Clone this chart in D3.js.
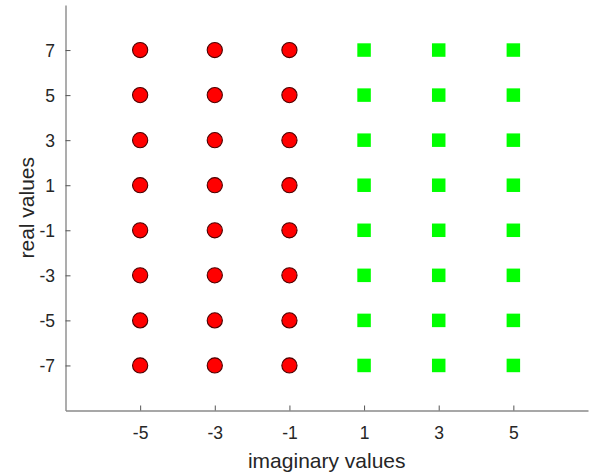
<!DOCTYPE html>
<html>
<head>
<meta charset="utf-8">
<script src="https://cdn.jsdelivr.net/npm/d3@7"></script>
<style>
  html, body { margin: 0; padding: 0; background: #fff; }
  svg { display: block; font-family: "Liberation Sans", Arial, Helvetica, sans-serif; }
</style>
</head>
<body>
<svg id="chart" width="592" height="475"></svg>
<script>
// Constellation points: real parts on the vertical axis, imaginary parts on the horizontal axis
const realValues = [7, 5, 3, 1, -1, -3, -5, -7];
const circleImag = [-5, -3, -1];   // red circles
const squareImag = [1, 3, 5];      // green squares
const xTicks = [-5, -3, -1, 1, 3, 5];
const yTicks = [-7, -5, -3, -1, 1, 3, 5, 7];
const xDomain = [-7, 7];
const yDomain = [-9, 9];

const svg = d3.select("#chart");
const plotLeft = 65.5, plotRight = 588, plotTop = 5, plotBottom = 410.5;

const x = d3.scaleLinear().domain(xDomain).range([plotLeft, plotRight]);
const y = d3.scaleLinear().domain(yDomain).range([plotBottom, plotTop]);

const axisColor = "#8a8a8a";
const textColor = "#262626";
const plainNum = d => String(d);   // ASCII hyphen for negatives

// X axis (ticks pointing inward)
const gx = svg.append("g")
  .attr("transform", `translate(0,${plotBottom})`)
  .call(d3.axisBottom(x).tickValues(xTicks).tickFormat(plainNum)
    .tickSizeInner(-5).tickSizeOuter(0).tickPadding(0));
gx.select(".domain").attr("stroke", axisColor).attr("stroke-width", 1.4);
gx.selectAll(".tick line").attr("stroke", "#555").attr("stroke-width", 1);
gx.selectAll(".tick text")
  .attr("fill", textColor)
  .attr("font-size", 17.5)
  .attr("dy", null)
  .attr("y", 28.5)
  .attr("font-family", "Liberation Sans, Arial, sans-serif");

// Y axis (ticks pointing inward)
const gy = svg.append("g")
  .attr("transform", `translate(${plotLeft},0)`)
  .call(d3.axisLeft(y).tickValues(yTicks).tickFormat(plainNum)
    .tickSizeInner(-5).tickSizeOuter(0).tickPadding(0));
gy.select(".domain").attr("stroke", axisColor).attr("stroke-width", 1.4);
gy.selectAll(".tick line").attr("stroke", "#555").attr("stroke-width", 1);
gy.selectAll(".tick text")
  .attr("fill", textColor)
  .attr("font-size", 17.5)
  .attr("x", -10.5)
  .attr("dy", "0.35em")
  .attr("font-family", "Liberation Sans, Arial, sans-serif");

// Axis titles
svg.append("text")
  .attr("x", (plotLeft + plotRight) / 2)
  .attr("y", 468)
  .attr("text-anchor", "middle")
  .attr("fill", textColor)
  .attr("font-size", 21)
  .text("imaginary values");

svg.append("text")
  .attr("transform", `translate(34,${(plotTop + plotBottom) / 2}) rotate(-90)`)
  .attr("text-anchor", "middle")
  .attr("fill", textColor)
  .attr("font-size", 21)
  .text("real values");

// Points
const circlePts = circleImag.flatMap(im => realValues.map(re => ({ im, re })));
const squarePts = squareImag.flatMap(im => realValues.map(re => ({ im, re })));

svg.append("g").selectAll("circle")
  .data(circlePts)
  .join("circle")
  .attr("cx", d => x(d.im))
  .attr("cy", d => y(d.re))
  .attr("r", 7.6)
  .attr("fill", "#ff0000")
  .attr("stroke", "#4a0000")
  .attr("stroke-width", 1.1);

const side = 13.5;
svg.append("g").selectAll("rect")
  .data(squarePts)
  .join("rect")
  .attr("x", d => x(d.im) - side / 2)
  .attr("y", d => y(d.re) - side / 2)
  .attr("width", side)
  .attr("height", side)
  .attr("fill", "#00ff00");
</script>
</body>
</html>
